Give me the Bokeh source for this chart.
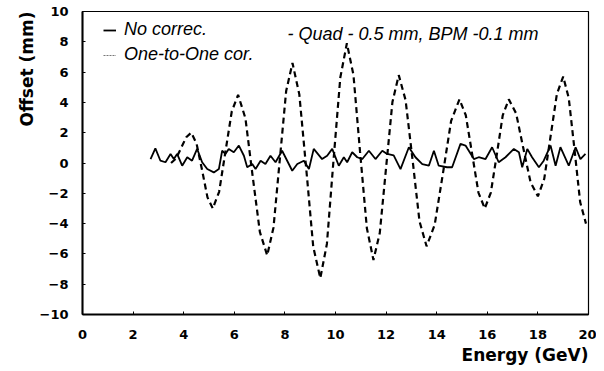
from bokeh.plotting import figure
from bokeh.models import Legend, LegendItem, Label, Title, FixedTicker
from bokeh.embed import file_html
from bokeh.resources import INLINE

# Dashed curve (Quad -0.5 mm, BPM -0.1 mm)
quad_x = [3.5, 3.7, 3.9, 4.1, 4.3, 4.51, 4.73, 4.94, 5.15, 5.4, 5.65, 5.9, 6.15,
          6.44, 6.72, 7.01, 7.3, 7.55, 7.8, 8.05, 8.3, 8.57, 8.85, 9.12, 9.4,
          9.66, 9.92, 10.19, 10.45, 10.71, 10.97, 11.24, 11.5, 11.75, 12.0, 12.25, 12.5,
          12.77, 13.05, 13.32, 13.6, 13.92, 14.25, 14.57, 14.9, 15.15, 15.4, 15.65, 15.9,
          16.14, 16.38, 16.61, 16.85, 17.14, 17.42, 17.71, 18.0, 18.25, 18.5, 18.75, 19.0,
          19.22, 19.45, 19.67, 19.9]
quad_y = [0.0, 0.3, 1.0, 1.7, 2.0, 1.27, -0.5, -2.27, -3.0, -1.9, 0.75, 3.4, 4.5,
          2.95, -0.8, -4.55, -6.1, -4.25, 0.25, 4.75, 6.6, 4.53, -0.5, -5.53, -7.6,
          -5.34, 0.15, 5.64, 7.9, 5.81, 0.75, -4.31, -6.4, -4.62, -0.3, 4.02, 5.8,
          4.15, 0.15, -3.85, -5.5, -4.08, -0.65, 2.78, 4.2, 3.15, 0.6, -1.95, -3.0,
          -1.95, 0.6, 3.15, 4.2, 3.27, 1.0, -1.27, -2.2, -1.05, 1.75, 4.55, 5.7,
          4.28, 0.85, -2.58, -4.0]

# Noisy solid curve
cor_x = [2.69, 2.88, 3.08, 3.28, 3.48, 3.61, 3.74, 3.94, 4.14, 4.33, 4.53, 4.73, 4.93,
         5.19, 5.39, 5.52, 5.65, 5.78, 5.98, 6.18, 6.38, 6.51, 6.71, 6.84, 7.04, 7.23,
         7.43, 7.63, 7.89, 8.09, 8.29, 8.49, 8.75, 8.95, 9.14, 9.47, 9.67, 9.87, 10.13,
         10.33, 10.46, 10.66, 10.86, 11.06, 11.32, 11.58, 11.85, 12.04, 12.3, 12.57, 12.9,
         13.16, 13.43, 13.69, 13.89, 14.08, 14.41, 14.61, 14.94, 15.14, 15.47, 15.66, 15.93,
         16.19, 16.45, 16.72, 17.05, 17.25, 17.38, 17.58, 17.77, 18.04, 18.23, 18.5, 18.7,
         18.89, 19.22, 19.49, 19.68, 19.88]
cor_y = [0.26, 0.97, 0.15, 0.05, 0.6, 0.26, 0.6, -0.18, 0.38, 0.15, 0.93, 0.05, -0.4,
         -0.62, -0.4, 0.81, 0.6, 0.93, 0.71, 1.15, 0.48, -0.28, -0.07, -0.4, 0.15, -0.07,
         0.48, 0.05, 0.81, 0.15, -0.51, -0.07, 0.15, -0.4, 0.93, 0.26, 0.48, 0.93, -0.18,
         0.38, 0.05, 0.71, 0.38, 0.26, 0.81, 0.26, 0.81, 0.6, 0.5, -0.4, 1.04,
         0.38, -0.07, -0.18, 0.81, -0.18, -0.28, -0.28, 1.26, 1.15, 0.26, 0.38, 0.26,
         1.04, 0.05, 0.38, 0.93, 0.71, -0.28, 0.93, 0.38, -0.28, 0.15, 1.15, -0.18,
         1.04, -0.18, 1.04, 0.26, 0.6]

x_ticks = [0, 2, 4, 6, 8, 10, 12, 14, 16, 18, 20]
y_ticks = [-10, -8, -6, -4, -2, 0, 2, 4, 6, 8, 10]

FONT = "Liberation Sans"
BOLD = "DejaVu Sans"
NAN = float("nan")

p = figure(width=596, height=368, x_range=(0, 20), y_range=(-10, 10),
           output_backend="svg", toolbar_location=None,
           min_border_left=82, min_border_top=11, min_border_right=8, min_border_bottom=54)
p.grid.visible = False
p.outline_line_color = "black"
p.outline_line_width = 1.2

r_quad = p.line(quad_x, quad_y, line_color="black", line_width=2.2, line_dash="6 4")
r_cor = p.line(cor_x, cor_y, line_color="black", line_width=1.8)

# legend glyph proxy for the thin grey sample shown in the reference legend
leg_b = p.line([NAN], [NAN], line_color="#777777", line_width=1, line_dash="2 1")

for ax in (p.xaxis[0], p.yaxis[0]):
    ax.axis_line_width = 2
    ax.axis_line_color = "black"
    ax.major_tick_in = 3
    ax.major_tick_out = 0
    ax.minor_tick_in = 2
    ax.minor_tick_out = 0
    ax.major_label_text_font = BOLD
    ax.major_label_text_font_style = "bold"
    ax.major_label_text_font_size = "13px"
    ax.major_label_text_color = "black"

p.xaxis.ticker = FixedTicker(ticks=x_ticks)
p.yaxis.ticker = FixedTicker(ticks=y_ticks)
p.xaxis.major_label_standoff = 15
p.yaxis.major_label_standoff = 14

p.add_layout(Title(text="Energy (GeV)", align="right", text_font=BOLD, text_font_style="bold",
                   text_font_size="17px", text_color="black", standoff=2), "below")
p.add_layout(Title(text="Offset (mm)", align="right", text_font=BOLD, text_font_style="bold",
                   text_font_size="17px", text_color="black", standoff=0), "left")

legend = Legend(items=[LegendItem(label="No correc.", renderers=[r_cor]),
                       LegendItem(label="One-to-One cor.", renderers=[leg_b])],
                location=(21, 249), orientation="vertical",
                background_fill_alpha=0, border_line_alpha=0,
                label_text_font=FONT, label_text_font_style="italic",
                label_text_font_size="18px", label_text_color="black",
                glyph_width=13, glyph_height=18,
                label_height=18, label_standoff=8, spacing=4, padding=0, margin=0)
p.add_layout(legend)

p.add_layout(Label(x=8.1, y=8.5, text="-   Quad - 0.5 mm, BPM -0.1 mm",
                   text_font=FONT, text_font_style="italic", text_font_size="18px",
                   text_baseline="alphabetic", text_color="black"))

open("out.html", "w").write(file_html(p, INLINE))
